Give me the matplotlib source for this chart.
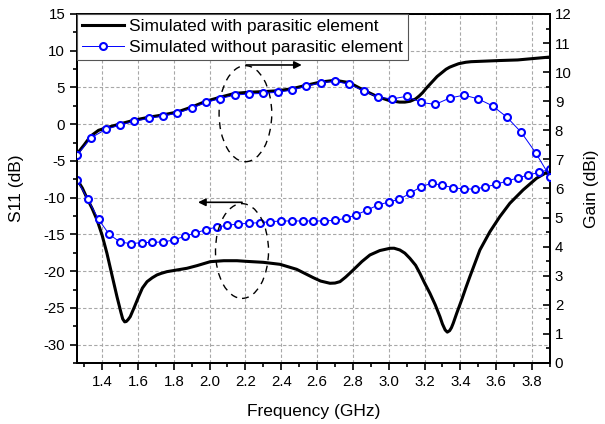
import numpy as np
import matplotlib.pyplot as plt
from matplotlib.lines import Line2D
from matplotlib.patches import Ellipse
from matplotlib.ticker import MultipleLocator

plt.rcParams['font.family'] = ['Liberation Sans', 'DejaVu Sans']
plt.rcParams['axes.unicode_minus'] = False

# S11 without parasitic element (blue circles, every 0.06 GHz)
f_s11_blue = np.round(np.arange(1.26, 3.9001, 0.06), 2)
s11_blue = [-7.6, -10.2, -12.95, -15.0, -16.03, -16.26, -16.12, -16.08, -16.03, -15.76,
            -15.26, -14.81, -14.35, -13.99, -13.76, -13.58, -13.49, -13.40, -13.27, -13.17,
            -13.17, -13.17, -13.17, -13.17, -13.08, -12.81, -12.32, -11.68, -11.00, -10.59,
            -10.2, -9.40, -8.50, -8.04, -8.31, -8.64, -8.82, -8.82, -8.55, -8.18,
            -7.73, -7.32, -6.91, -6.55, -6.15]

# S11 with parasitic element (black line)
f_s11_black = [1.26, 1.29, 1.316, 1.345, 1.372, 1.40, 1.427, 1.45, 1.483, 1.505,
               1.515, 1.526, 1.535, 1.545, 1.557, 1.58, 1.604, 1.625, 1.651, 1.68,
               1.706, 1.73, 1.762, 1.818, 1.874, 1.93, 2.004, 2.079, 2.153, 2.207,
               2.30, 2.393, 2.486, 2.579, 2.62, 2.672, 2.70, 2.728, 2.76, 2.802,
               2.85, 2.895, 2.95, 3.007, 3.03, 3.062, 3.09, 3.118, 3.15, 3.174,
               3.20, 3.23, 3.26, 3.286, 3.30, 3.315, 3.327, 3.34, 3.35, 3.36,
               3.38, 3.407, 3.43, 3.453, 3.48, 3.509, 3.565, 3.62, 3.676, 3.75,
               3.825, 3.9]
s11_black = [-7.5, -8.7, -10.09, -11.5, -13.04, -15.1, -17.57, -20.0, -23.47, -25.6,
             -26.5, -26.9, -26.85, -26.6, -26.2, -24.9, -23.47, -22.3, -21.43, -20.9,
             -20.52, -20.3, -20.07, -19.84, -19.61, -19.25, -18.71, -18.58, -18.58, -18.67,
             -18.80, -19.07, -19.75, -20.89, -21.35, -21.65, -21.62, -21.43, -20.8, -19.84,
             -18.7, -17.80, -17.2, -16.89, -16.88, -17.12, -17.55, -18.25, -19.2, -20.29,
             -21.6, -23.01, -24.6, -26.20, -27.2, -28.0, -28.3, -28.1, -27.7, -27.10,
             -25.7, -23.92, -22.3, -20.75, -19.0, -17.12, -14.63, -12.59, -10.77, -8.95,
             -7.36, -6.3]

# Gain without parasitic element (blue circles, every 0.08 GHz)
f_gain_blue = np.round(np.arange(1.26, 3.9001, 0.08), 2)
gain_blue = [7.15, 7.75, 8.03, 8.18, 8.31, 8.41, 8.49, 8.59, 8.76, 8.96,
             9.09, 9.21, 9.25, 9.27, 9.31, 9.38, 9.52, 9.63, 9.69, 9.58,
             9.36, 9.14, 9.08, 9.17, 8.96, 8.89, 9.11, 9.21, 9.08, 8.84,
             8.45, 7.93, 7.23, 6.41]

# Gain with parasitic element (black line)
f_gain_black = [1.26, 1.30, 1.336, 1.38, 1.42, 1.50, 1.58, 1.66, 1.74, 1.82,
                1.90, 1.98, 2.06, 2.14, 2.22, 2.30, 2.38, 2.46, 2.54, 2.62,
                2.70, 2.78, 2.86, 2.94, 3.00, 3.06, 3.09, 3.12, 3.15, 3.17,
                3.19, 3.21, 3.24, 3.27, 3.30, 3.32, 3.34, 3.36, 3.39, 3.43,
                3.46, 3.50, 3.62, 3.72, 3.81, 3.90]
gain_black = [7.19, 7.5, 7.8, 8.0, 8.08, 8.22, 8.35, 8.45, 8.53, 8.63,
              8.80, 9.0, 9.14, 9.27, 9.31, 9.33, 9.36, 9.43, 9.55, 9.66,
              9.72, 9.64, 9.38, 9.15, 9.03, 8.97, 8.97, 9.0, 9.08, 9.18,
              9.3, 9.45, 9.65, 9.85, 10.0, 10.1, 10.17, 10.22, 10.29, 10.34,
              10.36, 10.37, 10.40, 10.42, 10.47, 10.52]

fig = plt.figure(figsize=(6.05, 4.24), dpi=100)
ax = fig.add_axes([0.1273, 0.1439, 0.7817, 0.8231])
ax2 = ax.twinx()

# S11 curves
ax.plot(f_s11_black, s11_black, color='black', lw=2.2, zorder=3,
        solid_joinstyle='round', solid_capstyle='round')
ax.plot(f_s11_blue, s11_blue, color='blue', lw=0.7, marker='o', ms=5,
        mfc='white', mec='blue', mew=1.5, zorder=4)

# gain curves
ax2.plot(f_gain_black, gain_black, color='black', lw=2.2, zorder=3,
         solid_joinstyle='round', solid_capstyle='round')
ax2.plot(f_gain_blue, gain_blue, color='blue', lw=0.7, marker='o', ms=5,
         mfc='white', mec='blue', mew=1.5, zorder=4)

ax.set_xlim(1.26, 3.9)
ax.set_ylim(-32.5, 15)
ax2.set_ylim(0, 12)

ax.xaxis.set_major_locator(MultipleLocator(0.2))
ax.xaxis.set_minor_locator(MultipleLocator(0.1))
ax.yaxis.set_major_locator(MultipleLocator(5))
ax.yaxis.set_minor_locator(MultipleLocator(2.5))
ax2.yaxis.set_major_locator(MultipleLocator(1))
ax2.yaxis.set_minor_locator(MultipleLocator(0.5))
ax.xaxis.set_major_formatter(plt.FuncFormatter(lambda v, p: f'{v:.1f}'))

ax.grid(True, which='major', color='#a8a8a8', ls=(0, (3, 2)), lw=0.8)
ax.set_axisbelow(True)

ax.tick_params(axis='both', which='major', direction='out', length=5, width=1.2,
               labelsize=10.8, top=False, right=False)
ax.tick_params(axis='both', which='minor', direction='out', length=3, width=1.2,
               top=False, right=False)
ax2.tick_params(axis='y', which='major', direction='in', length=5, width=1.2, labelsize=10.8)
ax2.tick_params(axis='y', which='minor', direction='in', length=3, width=1.2)

for a in (ax, ax2):
    for s in a.spines.values():
        s.set_linewidth(1.4)

ax.set_xlabel('Frequency (GHz)', fontsize=12.5, labelpad=11)
ax.set_ylabel('S11 (dB)', fontsize=12.5)
ax.yaxis.set_label_coords(-0.112, 0.5)
ax2.set_ylabel('Gain (dBi)', fontsize=12.5, labelpad=9)

# dashed ellipses and arrows
ax.add_patch(Ellipse((2.2, 1.43), 0.294, 13.07, fill=False, ec='black',
                     lw=1.0, ls=(0, (5, 4)), zorder=5))
ax.add_patch(Ellipse((2.181, -17.26), 0.296, 12.9, fill=False, ec='black',
                     lw=1.0, ls=(0, (5, 4)), zorder=5))
ax.annotate('', xy=(2.53, 8.06), xytext=(2.188, 8.06),
            arrowprops=dict(arrowstyle='-|>', color='black', lw=1.2, mutation_scale=11))
ax.annotate('', xy=(1.92, -10.63), xytext=(2.197, -10.63),
            arrowprops=dict(arrowstyle='-|>', color='black', lw=1.2, mutation_scale=11))

handles = [Line2D([], [], color='black', lw=2.2),
           Line2D([], [], color='blue', lw=0.7, marker='o', ms=5, mfc='white',
                  mec='blue', mew=1.5)]
leg = ax2.legend(handles, ['Simulated with parasitic element',
                           'Simulated without parasitic element'],
                 loc='upper left', borderaxespad=0, fontsize=12.5, frameon=True,
                 fancybox=False, handlelength=2.4, handletextpad=0.3,
                 labelspacing=0.3, borderpad=0.3)
leg.get_frame().set_edgecolor('#555555')
leg.get_frame().set_linewidth(0.8)
leg.get_frame().set_alpha(1)

fig.savefig('out.png', dpi=100)
